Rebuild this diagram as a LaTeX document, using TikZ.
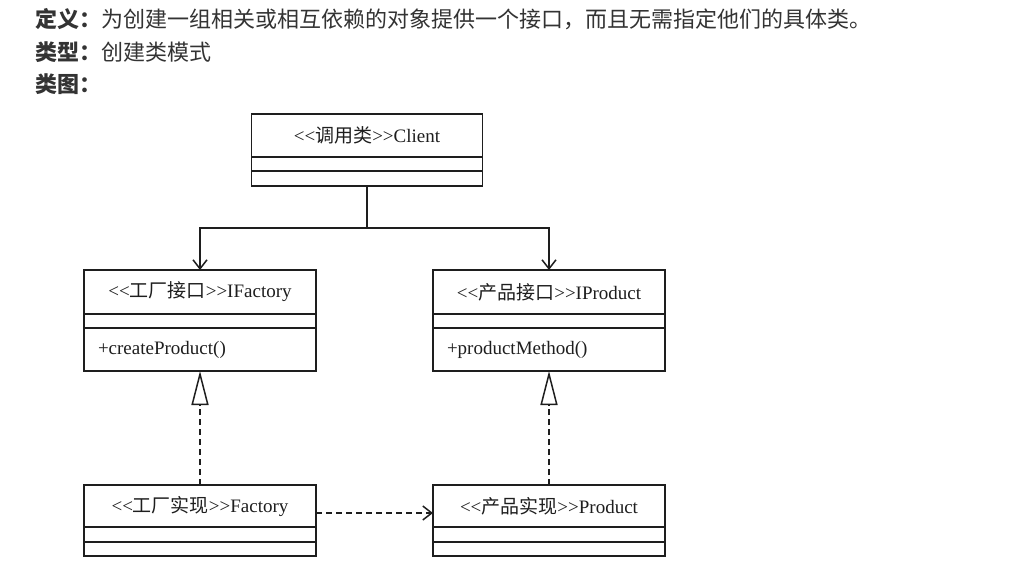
\documentclass[tikz,border=0pt]{standalone}
\usepackage{fontspec}
\setmainfont{Liberation Serif}
\newfontfamily\cjk{Noto Sans CJK SC}
\usetikzlibrary{arrows.meta}
\definecolor{ink}{HTML}{1E1E1E}
\definecolor{hdrtxt}{HTML}{333333}
\begin{document}
\begin{tikzpicture}[x=1pt,y=-1pt,
  hdr/.style={anchor=base west, inner sep=0pt, text=hdrtxt, font=\cjk\fontsize{22}{26}\selectfont},
  cls/.style={draw=ink, line width=1.7pt, minimum width=232pt, inner sep=0pt, outer sep=0pt, text=ink, font=\fontsize{19}{22}\selectfont},
  meth/.style={cls, text width=204pt, align=left},
  link/.style={draw=ink, line width=1.7pt},
  dep/.style={link, dash pattern=on 6pt off 4pt},
  vee/.style={-{Straight Barb[length=9pt, width=14pt, line width=1.5pt]}},
  real/.style={-{Triangle[open, fill=white, length=34pt, width=17pt, line width=1.5pt]}}
]
\useasboundingbox[fill=white] (0,0) rectangle (1013,579);

% header
\node[hdr] (def) at (35,27) {\textbf{定义：}为创建一组相关或相互依赖的对象提供一个接口，而且无需指定他们的具体类。};
\node[hdr] (typ) at (35,60) {\textbf{类型：}创建类模式};
\node[hdr] (dia) at (35,92.5) {\textbf{类图：}};

% Client
\node[cls, minimum width=231pt, minimum height=43pt] (cliT) at (367,135.5) {<{}<{\cjk 调用类}>{}>Client};
\node[cls, minimum width=231pt, minimum height=14pt] (cliA) at (367,164) {};
\node[cls, minimum width=231pt, minimum height=15pt] (cliM) at (367,178.5) {};

% IFactory
\node[cls, minimum height=44pt] (ifacT) at (200,292) {<{}<{\cjk 工厂接口}>{}>IFactory};
\node[cls, minimum height=14pt] (ifacA) at (200,321) {};
\node[meth, minimum height=43pt] (ifacM) at (200,349.5) {+createProduct()};

% IProduct
\node[cls, minimum height=44pt] (iprodT) at (549,292) {<{}<{\cjk 产品接口}>{}>IProduct};
\node[cls, minimum height=14pt] (iprodA) at (549,321) {};
\node[meth, minimum height=43pt] (iprodM) at (549,349.5) {+productMethod()};

% Factory
\node[cls, minimum height=42pt] (facT) at (200,506) {<{}<{\cjk 工厂实现}>{}>Factory};
\node[cls, minimum height=15pt] (facA) at (200,534.5) {};
\node[cls, minimum height=14pt] (facM) at (200,549) {};

% Product
\node[cls, minimum height=42pt] (prodT) at (549,506) {<{}<{\cjk 产品实现}>{}>Product};
\node[cls, minimum height=15pt] (prodA) at (549,534.5) {};
\node[cls, minimum height=14pt] (prodM) at (549,549) {};

% connectors
\coordinate (junc) at (367,228);
\draw[link] (cliM.south) -- (junc);
\draw[link, vee] (junc) -| (ifacT.north);
\draw[link, vee] (junc) -| (iprodT.north);
\draw[dep, real] (facT.north) -- (ifacM.south);
\draw[dep, real] (prodT.north) -- (iprodM.south);
\coordinate (deplevel) at (0,513);
\draw[dep, vee] (facT.east |- deplevel) -- (prodT.west |- deplevel);
\end{tikzpicture}
\end{document}
